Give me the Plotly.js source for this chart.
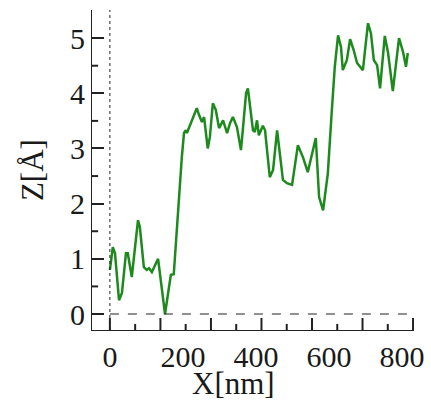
<!DOCTYPE html>
<html>
<head>
<meta charset="utf-8">
<script src="https://cdn.plot.ly/plotly-3.0.1.min.js"></script>
<style>html,body{margin:0;padding:0;background:#fff;}#chart{width:431px;height:403px;}</style>
</head>
<body>
<div id="chart"></div>
<script>
// Profile position along the scan line (nm)
const xNm = [0, 8, 14, 25, 33, 44, 49, 60, 77, 82, 93, 101, 107, 115, 132, 140, 151, 162, 167, 175, 186, 189, 197, 203, 208, 211, 222, 238, 244, 252, 258, 268, 274, 282, 290, 299, 310, 321, 329, 337, 348, 359, 364, 373, 378, 381, 392, 397, 403, 408, 419, 425, 438, 447, 458, 474, 485, 499, 515, 529, 542, 564, 573, 584, 597, 608, 616, 625, 633, 638, 649, 658, 668, 677, 693, 701, 707, 715, 723, 732, 740, 753, 762, 775, 792, 803, 811, 816];
// Height (Angstrom)
const zA = [0.80, 1.21, 1.10, 0.25, 0.38, 1.10, 1.10, 0.67, 1.70, 1.58, 0.85, 0.80, 0.83, 0.76, 1.00, 0.56, 0.00, 0.49, 0.71, 0.72, 1.88, 2.07, 2.84, 3.28, 3.33, 3.28, 3.46, 3.73, 3.61, 3.48, 3.57, 3.00, 3.21, 3.82, 3.70, 3.37, 3.51, 3.28, 3.46, 3.57, 3.39, 2.97, 3.33, 4.00, 4.09, 3.93, 3.33, 3.30, 3.51, 3.24, 3.41, 3.33, 2.48, 2.61, 3.33, 2.43, 2.37, 2.34, 3.06, 2.84, 2.57, 3.19, 2.12, 1.88, 2.55, 3.70, 4.48, 5.05, 4.84, 4.42, 4.60, 4.98, 4.78, 4.55, 4.42, 4.91, 5.27, 5.09, 4.60, 4.51, 4.09, 5.04, 4.73, 4.04, 5.00, 4.75, 4.48, 4.73];
const xTickVals = [0, 200, 400, 600, 800];
const xTickText = ['0', '200', '400', '600', '800'];
const yTickVals = [0, 1, 2, 3, 4, 5];
const yTickText = ['0', '1', '2', '3', '4', '5'];
// tick marks of the original frame (not aligned with the x labels)
const xMarkMajor = [0, 138.4, 276.8, 415.2, 553.6, 692, 830.4];
const xMarkMinor = [69.2, 207.6, 346, 484.4, 622.8, 761.2];
const yMarkMinor = [0.5, 1.5, 2.5, 3.5, 4.5];

const xRange = [-49, 833];
const yRange = [-0.29, 5.51];

const trace = {x: xNm, y: zA, type: 'scatter', mode: 'lines', line: {color: '#1c8a1c', width: 2.5}};

const shapes = [
  {type: 'line', xref: 'x', yref: 'paper', x0: 0, x1: 0, y0: 0, y1: 1,
   line: {color: '#222222', width: 1, dash: 'dot'}},
  {type: 'line', xref: 'x', yref: 'y', x0: 0, x1: xRange[1], y0: 0, y1: 0,
   line: {color: '#222222', width: 1, dash: 'dash'}}
];
for (const v of xMarkMajor) {
  shapes.push({type: 'line', xref: 'x', yref: 'paper', x0: v, x1: v, y0: 0, y1: 0.0375, line: {color: '#222222', width: 2}});
}
for (const v of xMarkMinor) {
  shapes.push({type: 'line', xref: 'x', yref: 'paper', x0: v, x1: v, y0: 0, y1: 0.019, line: {color: '#222222', width: 2}});
}
for (const v of yMarkMinor) {
  shapes.push({type: 'line', xref: 'paper', yref: 'y', x0: 0, x1: 0.019, y0: v, y1: v, line: {color: '#222222', width: 2}});
}

const layout = {
  width: 431, height: 403,
  margin: {l: 92, r: 17, t: 10, b: 73},
  showlegend: false,
  xaxis: {
    range: xRange, showgrid: false, zeroline: false, showline: true, linecolor: '#222222',
    tickmode: 'array', tickvals: xTickVals, ticktext: xTickText,
    ticks: 'outside', ticklen: 0, tickwidth: 1, tickcolor: '#222222',
    tickfont: {family: 'Liberation Serif', size: 30, color: '#1a1a1a'}
  },
  yaxis: {
    range: yRange, showgrid: false, zeroline: false, showline: true, linecolor: '#222222',
    tickmode: 'array', tickvals: yTickVals, ticktext: yTickText,
    ticks: 'inside', ticklen: 12, tickwidth: 2, tickcolor: '#222222',
    tickfont: {family: 'Liberation Serif', size: 30, color: '#1a1a1a'}
  },
  shapes: shapes,
  annotations: [
    {text: 'X[nm]', xref: 'paper', yref: 'paper', x: 0.438, y: -0.166,
     xanchor: 'center', yanchor: 'middle', showarrow: false,
     font: {family: 'Liberation Serif', size: 31, color: '#1a1a1a'}},
    {text: 'Z[Å]', xref: 'paper', yref: 'paper', x: -0.186, y: 0.5,
     xanchor: 'center', yanchor: 'middle', textangle: -90, showarrow: false,
     font: {family: 'Liberation Serif', size: 31, color: '#1a1a1a'}}
  ]
};

Plotly.newPlot('chart', [trace], layout, {displayModeBar: false});
</script>
</body>
</html>
